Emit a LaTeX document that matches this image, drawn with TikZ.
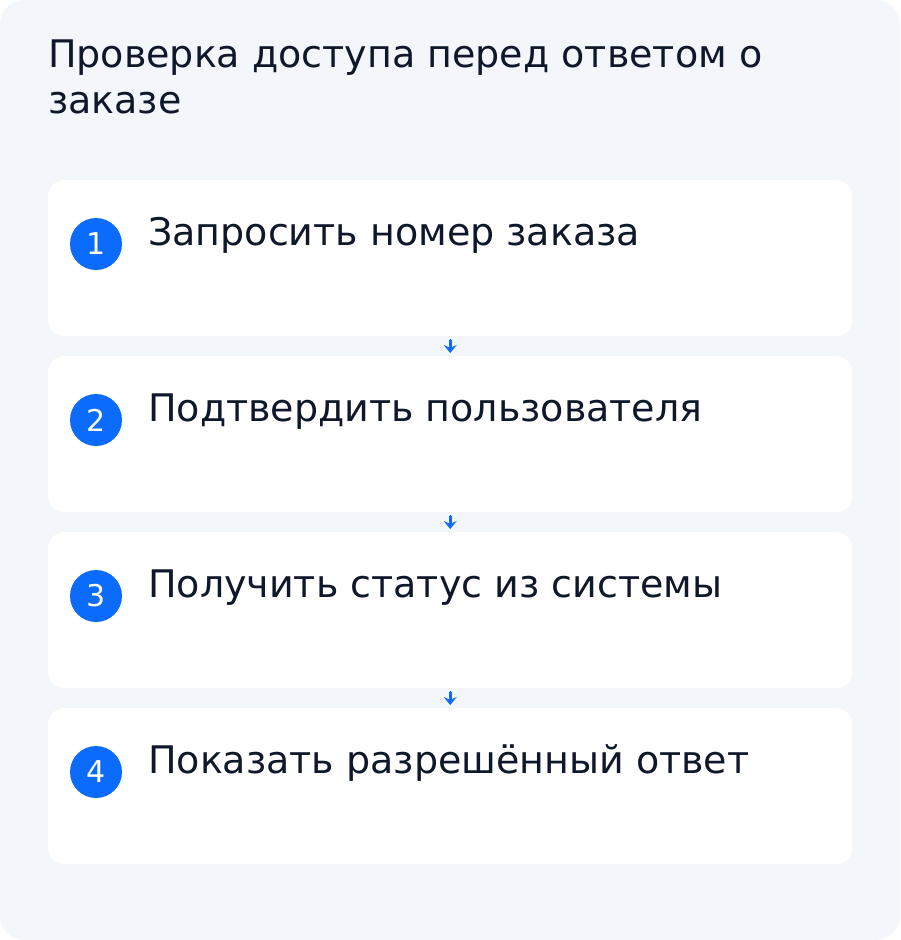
\documentclass[tikz,border=0pt]{standalone}
\usepackage{fontspec}
\setmainfont{DejaVu Sans}
\usepackage{xcolor}
\usetikzlibrary{arrows.meta}
\definecolor{panelbg}{HTML}{F3F6FA}
\definecolor{stepblue}{HTML}{0B6CFB}
\definecolor{inkdark}{HTML}{0F172A}

\tikzset{
	card/.style={fill=white,draw=none,rounded corners=16pt,minimum width=804pt,minimum height=156pt,anchor=north west,inner sep=0pt},
	badge/.style={circle,fill=stepblue,minimum size=52pt,inner sep=0pt,text=white,font=\fontsize{30}{34}\selectfont},
	steptext/.style={anchor=base west,text=inkdark,font=\fontsize{38}{46}\selectfont,inner sep=0pt},
	flow/.style={-{Stealth[length=8pt,width=13pt,inset=3pt]},line width=3pt,draw=stepblue}
}

\begin{document}
\begin{tikzpicture}[line cap=round,line join=round,x=1pt,y=-1pt]
	\useasboundingbox (0,0) rectangle (900,940);
	\fill[panelbg,rounded corners=24pt] (0,0) rectangle (900,940);
	\node[anchor=base west,align=left,text=inkdark,font=\fontsize{38}{46}\selectfont,inner sep=0pt] (title) at (48,113) {Проверка доступа перед ответом о\\заказе};
	% cards
	\node[card] (card1) at (48,180) {};
	\node[card] (card2) at (48,356) {};
	\node[card] (card3) at (48,532) {};
	\node[card] (card4) at (48,708) {};
	% numbers
	\node[badge] (badge1) at (96,244) {1};
	\node[badge] (badge2) at (96,420) {2};
	\node[badge] (badge3) at (96,596) {3};
	\node[badge] (badge4) at (96,772) {4};
	% labels
	\node[steptext] (label1) at (148,245) {Запросить номер заказа};
	\node[steptext] (label2) at (148,421) {Подтвердить пользователя};
	\node[steptext] (label3) at (148,597) {Получить статус из системы};
	\node[steptext] (label4) at (148,773) {Показать разрешённый ответ};
	% arrows
	\draw[flow,shorten <=4pt,shorten >=3pt] (card1.south) -- (card2.north);
	\draw[flow,shorten <=4pt,shorten >=3pt] (card2.south) -- (card3.north);
	\draw[flow,shorten <=4pt,shorten >=3pt] (card3.south) -- (card4.north);
\end{tikzpicture}
\end{document}
